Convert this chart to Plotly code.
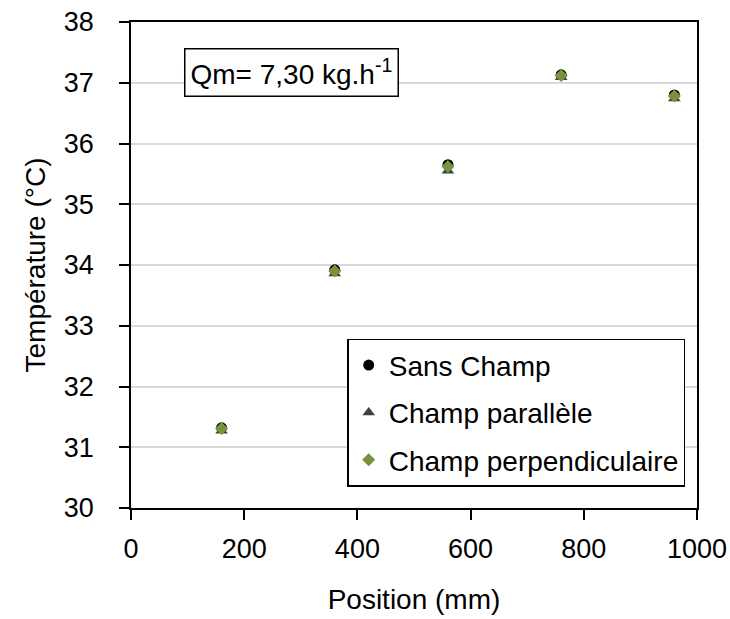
import plotly.graph_objects as go

positions = [160, 360, 560, 760, 960]
sans_champ = [31.32, 33.92, 35.65, 37.13, 36.80]
champ_parallele = [31.27, 33.86, 35.55, 37.09, 36.74]
champ_perpendiculaire = [31.31, 33.90, 35.62, 37.12, 36.78]

x_ticks = [0, 200, 400, 600, 800, 1000]
y_ticks = [30, 31, 32, 33, 34, 35, 36, 37, 38]

FONT = "Liberation Sans, Arial, sans-serif"

fig = go.Figure()
fig.add_trace(go.Scatter(x=positions, y=sans_champ, mode="markers", name="Sans Champ", legendgroup="a",
                         marker=dict(symbol="circle", size=11, color="#000000")))
fig.add_trace(go.Scatter(x=positions, y=champ_parallele, mode="markers", name="Champ parallèle", legendgroup="b",
                         marker=dict(symbol="triangle-up", size=11, color="#404040")))
fig.add_trace(go.Scatter(x=positions, y=champ_perpendiculaire, mode="markers", name="Champ perpendiculaire",
                         legendgroup="c",
                         marker=dict(symbol="diamond", size=10, color="#77933C")))

fig.update_layout(
    width=730, height=619,
    margin=dict(l=131, r=33, t=22, b=111, autoexpand=False),
    paper_bgcolor="white", plot_bgcolor="white",
    font=dict(family=FONT, size=27, color="black"),
    showlegend=True,
    legend=dict(x=0.382, y=0.348, xanchor="left", yanchor="top",
                bordercolor="black", borderwidth=1.5, bgcolor="white",
                font=dict(size=28), tracegroupgap=8),
    xaxis=dict(range=[0, 1000], tickvals=x_ticks, showgrid=False, automargin=False,
               showline=True, linecolor="black", linewidth=1.5, mirror=True,
               ticks="outside", ticklen=10, tickcolor="black", tickwidth=1.5,
               ticklabelstandoff=6, ticklabeloverflow="allow",
               title=dict(text="Position (mm)", standoff=26, font=dict(size=28)), zeroline=False,
               tickfont=dict(size=27)),
    yaxis=dict(range=[30, 38], tickvals=y_ticks, showgrid=True, gridcolor="#d9d9d9", gridwidth=1.5,
               showline=True, linecolor="black", linewidth=1.5, mirror=True, automargin=False,
               ticks="outside", ticklen=10, tickcolor="black", tickwidth=1.5,
               ticklabelstandoff=20, ticklabeloverflow="allow",
               title=dict(text="Température (°C)", standoff=10, font=dict(size=28)), zeroline=False,
               tickfont=dict(size=27)),
    annotations=[dict(x=0.094, y=0.946, xref="paper", yref="paper", xanchor="left", yanchor="top",
                      text="Qm= 7,30 kg.h<sup>-1</sup>", showarrow=False,
                      bordercolor="black", borderwidth=1.5, borderpad=5, bgcolor="white",
                      font=dict(size=28))],
)

fig.write_html("out.html", config={"displayModeBar": False},
               post_script="document.body.style.margin='0';")
